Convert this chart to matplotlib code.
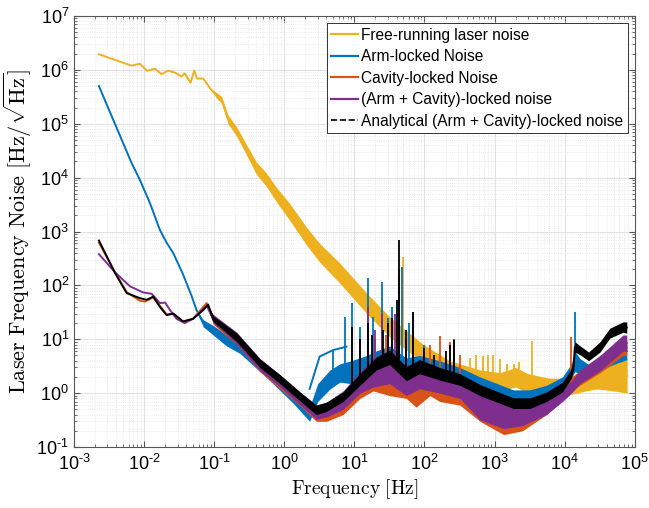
import numpy as np
import matplotlib
matplotlib.use('Agg')
from matplotlib import pyplot as plt
from matplotlib.lines import Line2D
from matplotlib.ticker import LogLocator, NullFormatter, FuncFormatter

# free-running laser noise (yellow)
free_f = [2.27e-3, 5e-3, 6.6e-3, 8.7e-3, 0.011, 0.0143, 0.0178, 0.022, 0.0276, 0.034, 0.038, 0.046,
          0.052, 0.057, 0.070, 0.087, 0.108, 0.128, 0.158, 0.21, 0.275, 0.40, 0.56, 0.78, 1.2, 2.08,
          3.2, 6.2, 15, 32, 96, 230, 620, 1200, 2000, 3000, 6000, 1e4, 1.5e4, 2e4, 2.9e4, 5e4, 7.8e4]
free_lo = [1.95e6, 1.36e6, 1.2e6, 1.3e6, 9.6e5, 1.05e6, 8.3e5, 9.7e5, 8.9e5, 7.5e5, 8.6e5, 5.8e5,
           9.7e5, 6.9e5, 6.9e5, 4.6e5, 3.0e5, 2.4e5, 1.0e5, 5.8e4, 3.0e4, 1.15e4, 6.8e3, 3.5e3, 1.6e3, 560,
           270, 110, 30, 11, 3.6, 1.8, 1.2, 1.1, 1.3, 1.0, 0.9, 0.9, 1.0, 1.1, 1.2, 1.1, 1.0]
free_hi = [1.95e6, 1.36e6, 1.2e6, 1.3e6, 9.6e5, 1.05e6, 8.3e5, 9.7e5, 8.9e5, 7.5e5, 8.6e5, 5.8e5,
           9.7e5, 6.9e5, 6.9e5, 4.6e5, 3.8e5, 3.2e5, 1.45e5, 8.7e4, 4.6e4, 1.95e4, 1.2e4, 6.5e3, 3.3e3, 1200,
           600, 260, 72, 26, 8.0, 4.0, 2.7, 2.4, 3.0, 2.3, 1.9, 1.9, 2.2, 2.6, 3.4, 4.2, 4.5]
free_spike_f = [50, 450, 550, 690, 800, 960, 1200, 1500, 1900, 2200, 3400]
free_spike_v = [340, 4.5, 5.0, 4.8, 5.0, 5.0, 4.3, 3.5, 3.5, 3.8, 9.1]

# arm-locked noise (blue)
arm_f = [2.27e-3, 6.6e-3, 8.7e-3, 0.0121, 0.0168, 0.021, 0.026, 0.036, 0.048, 0.056, 0.070, 0.097,
         0.15, 0.232, 0.625, 1.34, 2.3, 3.0, 4.5, 6.2, 9, 15, 20, 32, 55, 85, 165, 320, 620, 1850,
         3200, 5500, 9300, 1.25e4, 1.4e4, 1.65e4, 2.2e4, 3.2e4, 4.4e4, 7.7e4]
arm_lo = [5e5, 1.9e4, 9.1e3, 3.4e3, 1070, 620, 400, 160, 62, 35, 17, 12,
          7.5, 5.5, 1.7, 0.65, 0.3, 0.7, 1.2, 1.6, 1.5, 1.8, 2.0, 2.5, 1.2, 1.6, 1.3, 1.1, 0.8, 0.55,
          0.6, 0.7, 1.1, 1.9, 2.5, 2.3, 1.8, 2.5, 3.2, 4.2]
arm_hi = [5e5, 1.9e4, 9.1e3, 3.4e3, 1070, 620, 400, 160, 62, 35, 23, 18,
          12, 9.0, 3.0, 1.15, 0.55, 1.5, 2.7, 3.5, 4.0, 5.0, 6.0, 7.5, 4.5, 5.0, 4.0, 3.0, 2.0, 1.15,
          1.15, 1.4, 2.0, 3.5, 6.0, 4.4, 3.4, 5.0, 6.3, 8.5]
arm_seg_f = [2.3, 3.2, 5.0, 7.7]
arm_seg_v = [1.2, 4.8, 6.3, 7.3]
arm_spike_f = [5.0, 7.4, 9.2, 12, 15.7, 18.5, 24.5, 30, 35, 48, 60, 69, 100, 260, 1.4e4]
arm_spike_v = [6.0, 26, 47, 17, 135, 26, 117, 25, 40, 220, 20, 32, 8, 10, 32]

# cavity-locked noise (orange)
cav_f = [2.27e-3, 3.85e-3, 5.65e-3, 8.7e-3, 0.0103, 0.0135, 0.0168, 0.021, 0.026, 0.036, 0.05, 0.078,
         0.097, 0.134, 0.21, 0.45, 0.87, 1.68, 2.86, 4, 6.9, 12, 18.5, 32, 55, 76, 120, 165, 320, 620,
         1350, 2500, 5500, 9300, 1.25e4, 1.65e4, 3.2e4, 6.8e4, 7.7e4]
cav_lo = [620, 175, 75, 52, 50, 60, 42, 29, 30, 21, 24, 47,
          19, 13, 8, 2.5, 1.2, 0.58, 0.3, 0.3, 0.4, 0.8, 1.1, 0.9, 0.8, 0.55, 0.9, 0.7, 0.6, 0.3,
          0.17, 0.2, 0.4, 0.75, 1.1, 1.4, 2.4, 5, 5]
cav_hi = [620, 175, 75, 52, 50, 60, 42, 29, 30, 21, 24, 47,
          28, 20, 13, 4.3, 2.1, 1.0, 0.56, 0.62, 0.9, 1.9, 2.5, 3.5, 2.6, 2.0, 2.8, 2.2, 2.0, 0.8,
          0.55, 0.55, 0.85, 1.35, 2.0, 2.6, 4.5, 10, 10]
cav_spike_f = [15.7, 20, 28, 43, 69, 120, 165, 230, 320, 1.25e4]
cav_spike_v = [30, 10, 12, 200, 25, 8, 11.3, 9, 5, 11]

# (arm + cavity)-locked noise (purple)
both_f = [2.27e-3, 3.85e-3, 6.3e-3, 9.7e-3, 0.0128, 0.0168, 0.02, 0.0234, 0.029, 0.038, 0.05, 0.078,
          0.097, 0.134, 0.21, 0.45, 0.87, 1.68, 2.86, 4, 6.9, 12, 18.5, 32, 55, 85, 165, 320, 620,
          1350, 2500, 5500, 9300, 1.25e4, 1.65e4, 3.2e4, 6.8e4, 7.7e4]
both_lo = [380, 175, 96, 74, 70, 47, 48, 35, 24, 20, 24, 42,
           20, 14, 8.2, 2.6, 1.3, 0.6, 0.33, 0.36, 0.5, 1.0, 1.3, 1.5, 0.9, 1.2, 1.0, 0.8, 0.32,
           0.22, 0.25, 0.4, 0.7, 1.0, 1.5, 2.6, 6, 6]
both_hi = [380, 175, 96, 74, 70, 47, 48, 35, 24, 20, 24, 42,
           29, 21, 13.5, 4.4, 2.2, 1.05, 0.6, 0.68, 1.1, 2.5, 4.5, 5.5, 3.3, 3.8, 3.0, 2.2, 0.9,
           0.65, 0.62, 0.8, 1.2, 1.7, 2.7, 5.0, 12, 12]
both_spike_f = [12, 15.7, 20, 24.5, 30, 38, 43, 55, 69, 100, 260]
both_spike_v = [8, 40, 15, 30, 15, 30, 150, 10, 20, 6, 8]

# analytical (arm + cavity)-locked noise (black)
ana_f = [2.27e-3, 3.85e-3, 5.65e-3, 8.7e-3, 0.0109, 0.0135, 0.0168, 0.021, 0.026, 0.036, 0.05, 0.07,
         0.082, 0.097, 0.134, 0.21, 0.45, 0.87, 1.68, 2.86, 4, 6.9, 12, 20.6, 32, 55, 85, 165, 320,
         620, 1850, 3200, 5500, 9300, 1.25e4, 1.35e4, 1.4e4, 1.65e4, 2.2e4, 3.2e4, 4.4e4, 6.8e4, 7.7e4]
ana_lo = [680, 170, 72, 58, 54, 62, 40, 28, 30, 21.5, 24, 35,
          44, 21, 15, 9, 3.0, 1.5, 0.72, 0.4, 0.46, 0.7, 1.4, 2.7, 3.4, 1.7, 2.3, 1.75, 1.4,
          0.9, 0.52, 0.52, 0.7, 1.05, 1.9, 2.8, 5.8, 5.2, 4.0, 5.8, 10.5, 13.5, 13]
ana_hi = [680, 170, 72, 58, 54, 62, 40, 28, 30, 21.5, 24, 35,
          44, 27, 20, 13, 4.3, 2.2, 1.05, 0.6, 0.68, 1.05, 2.3, 4.7, 6.3, 3.1, 4.2, 3.0, 2.3,
          1.45, 0.82, 0.82, 1.05, 1.6, 2.8, 4.3, 9.0, 7.6, 5.8, 9.0, 16, 21, 21]
ana_spike_f = [9.2, 12, 15.7, 18, 26, 30, 35, 40, 43, 55, 69, 100, 136, 200, 230, 260]
ana_spike_v = [17, 10, 20, 12, 15, 20, 25, 54, 700, 15, 32, 7, 5, 6, 8, 9.8]

labels = ['Free-running laser noise', 'Arm-locked Noise', 'Cavity-locked Noise',
          '(Arm + Cavity)-locked noise', 'Analytical (Arm + Cavity)-locked noise']
colors = ['#EDB120', '#0072BD', '#D95319', '#7E2F8E', '#000000']

plt.rcParams['font.family'] = ['Liberation Sans', 'DejaVu Sans']


def draw(ax, f, lo, hi, sf, sv, color, z):
    f = np.array(f)
    lo = np.array(lo, dtype=float)
    hi = np.array(hi, dtype=float)
    mid = np.sqrt(lo * hi)
    ax.fill_between(f, lo, hi, color=color, lw=0, zorder=z)
    ax.plot(f, mid, color=color, lw=1.4, zorder=z)
    base = 10 ** np.interp(np.log10(sf), np.log10(f), np.log10(mid))
    ax.vlines(sf, base, sv, color=color, lw=1.3, zorder=z)


def pow_label(v, pos):
    e = int(round(np.log10(v)))
    if e < 0:
        return '$\\mathdefault{10^{\u2010%d}}$' % (-e)
    return '$\\mathdefault{10^{%d}}$' % e


fig = plt.figure(figsize=(6.49, 5.08), dpi=100)
ax = fig.add_axes([0.114, 0.120, 0.864, 0.8485])
ax.set_xscale('log')
ax.set_yscale('log')

draw(ax, free_f, free_lo, free_hi, free_spike_f, free_spike_v, colors[0], 2)
draw(ax, arm_f, arm_lo, arm_hi, arm_spike_f, arm_spike_v, colors[1], 3)
ax.plot(arm_seg_f, arm_seg_v, color=colors[1], lw=1.4, zorder=3)
draw(ax, cav_f, cav_lo, cav_hi, cav_spike_f, cav_spike_v, colors[2], 4)
draw(ax, both_f, both_lo, both_hi, both_spike_f, both_spike_v, colors[3], 5)
draw(ax, ana_f, ana_lo, ana_hi, ana_spike_f, ana_spike_v, colors[4], 6)

ax.set_xlim(1e-3, 1e5)
ax.set_ylim(1e-1, 1e7)
for axis in (ax.xaxis, ax.yaxis):
    axis.set_major_locator(LogLocator(base=10, numticks=20))
    axis.set_major_formatter(FuncFormatter(pow_label))
    axis.set_minor_locator(LogLocator(base=10, subs=np.arange(2, 10), numticks=200))
    axis.set_minor_formatter(NullFormatter())

ax.set_axisbelow(True)
ax.grid(True, which='major', color='#dcdcdc', lw=0.6)
ax.grid(True, which='minor', color='#e4e4e4', ls=':', lw=0.6)
ax.tick_params(which='both', direction='in', top=True, right=True, color='#555555', labelsize=13)
ax.tick_params(which='major', length=4)
ax.tick_params(which='minor', length=2)
ax.tick_params(axis='x', pad=5)
for s in ax.spines.values():
    s.set_color('#555555')
    s.set_linewidth(0.8)

ax.set_xlabel(r'$\mathrm{Frequency\ [Hz]}$', fontsize=14, math_fontfamily='cm', labelpad=2)
ax.set_ylabel(r'$\mathrm{Laser\ Frequency\ Noise\ [Hz/\sqrt{Hz}]}$', fontsize=16,
              math_fontfamily='cm', labelpad=2)

handles = [Line2D([], [], color=c, lw=1.6) for c in colors[:4]]
handles.append(Line2D([], [], color='k', lw=1.2, ls='--'))
leg = ax.legend(handles, labels, loc='upper right', fontsize=11.2, fancybox=False, framealpha=1,
                edgecolor='#333333', handlelength=1.7, handletextpad=0.2, borderaxespad=0.45,
                borderpad=0.3, labelspacing=0.42)
leg.get_frame().set_linewidth(0.7)
leg.set_zorder(10)

fig.savefig('out.png', dpi=100)
